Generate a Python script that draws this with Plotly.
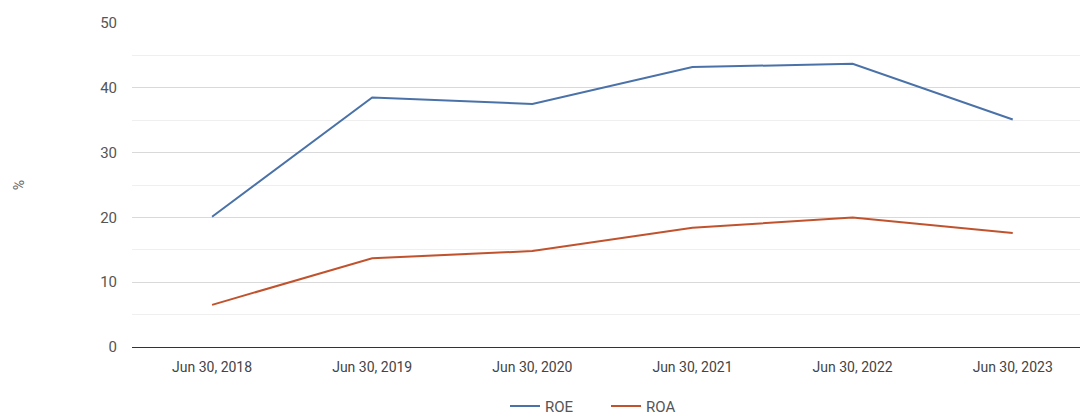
import plotly.graph_objects as go

categories = ["Jun 30, 2018", "Jun 30, 2019", "Jun 30, 2020", "Jun 30, 2021", "Jun 30, 2022", "Jun 30, 2023"]
roe = [20.1, 38.5, 37.5, 43.2, 43.7, 35.1]
roa = [6.5, 13.7, 14.8, 18.4, 20.0, 17.6]
y_ticks = [0, 10, 20, 30, 40, 50]

fig = go.Figure()
fig.add_trace(go.Scatter(x=categories, y=roe, mode="lines", name="ROE",
                         line=dict(color="#4a72a8", width=2)))
fig.add_trace(go.Scatter(x=categories, y=roa, mode="lines", name="ROA",
                         line=dict(color="#c0532e", width=2)))

fig.update_layout(
    width=1080, height=417,
    margin=dict(l=132, r=0, t=23, b=70, autoexpand=False),
    paper_bgcolor="white", plot_bgcolor="white",
    font=dict(family="Roboto, Arial, sans-serif", size=14, color="#555"),
    showlegend=True,
    legend=dict(orientation="h", x=0.5, xanchor="center", xref="paper",
                y=0.026, yanchor="middle", yref="container",
                font=dict(size=15, color="#555"), itemwidth=30,
                entrywidth=56, entrywidthmode="pixels"),
    xaxis=dict(type="category", range=[-0.5, 5.42], showgrid=False, automargin=False,
               tickfont=dict(size=14, color="#444"), ticks="", showline=False,
               ticklabelstandoff=10),
    yaxis=dict(range=[0, 50], tickvals=y_ticks, gridcolor="#d9d9d9", automargin=False,
               zeroline=True, zerolinecolor="#333", zerolinewidth=1,
               ticklabelstandoff=14,
               minor=dict(dtick=5, showgrid=True, gridcolor="#efefef"),
               tickfont=dict(size=15, color="#555"),
               title=dict(text="%", font=dict(size=14, color="#666"), standoff=72)),
)

fig.write_html("out.html", config={"displayModeBar": False},
               post_script="document.body.style.margin='0';")
